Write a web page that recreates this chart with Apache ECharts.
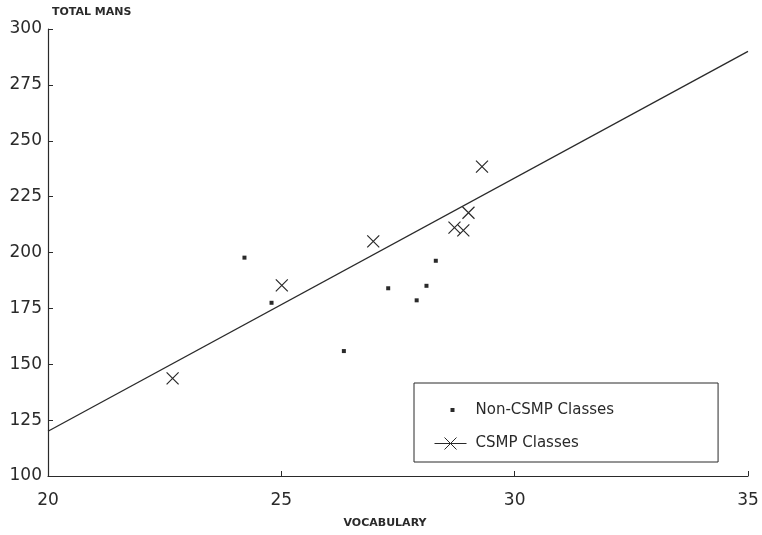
<!DOCTYPE html>
<html>
<head>
<meta charset="utf-8">
<script src="https://cdn.jsdelivr.net/npm/echarts@6/dist/echarts.min.js"></script>
<style>
html, body { margin: 0; background: #fff; }
#chart { width: 762px; height: 535px; }
</style>
</head>
<body>
<div id="chart"></div>
<script>
var ink = '#2a2a2a'

// axis ranges
var xRange = [20, 35]
var xStep = 5
var yRange = [100, 300]
var yStep = 25

// Non-CSMP classes (small squares)
var nonCsmp = [
    [24.21, 197.7],
    [24.79, 177.5],
    [26.34, 155.9],
    [27.29, 184.0],
    [27.90, 178.6],
    [28.11, 185.1],
    [28.31, 196.3]
]

// CSMP classes (crosses)
var csmp = [
    [22.67, 143.7],
    [25.01, 185.3],
    [26.97, 205.0],
    [28.71, 211.1],
    [28.90, 209.9],
    [29.01, 217.8],
    [29.30, 238.4]
]

// fitted line
var fitLine = [[20, 120], [35, 290]]

var chart = echarts.init(document.getElementById('chart'))

var option = {
    backgroundColor: '#fff',
    animation: false,
    grid: { left: 48, right: 14, top: 29, bottom: 59 },
    legend: {
        orient: 'vertical',
        left: 414,
        top: 383,
        data: [
            {
                name: 'Non-CSMP Classes',
                icon: 'path://M0,0M36,0M36,16M0,16M16,6h4v4h-4z',
                itemStyle: { color: ink, borderWidth: 0 }
            },
            {
                name: 'CSMP Classes',
                icon: 'path://M0,8h32M10,2L22,14M22,2L10,14M0,0M36,16',
                itemStyle: { color: 'none', borderColor: ink, borderWidth: 1 }
            }
        ],
        itemWidth: 36,
        itemHeight: 16,
        itemGap: 15,
        padding: [19, 104, 8, 18],
        borderColor: ink,
        borderWidth: 1,
        borderRadius: 0,
        selectedMode: false,
        textStyle: { fontFamily: 'DejaVu Sans', fontSize: 15, color: ink }
    },
    xAxis: {
        type: 'value',
        min: xRange[0],
        max: xRange[1],
        interval: xStep,
        name: 'VOCABULARY',
        nameLocation: 'middle',
        nameGap: 42,
        nameTextStyle: { fontFamily: 'DejaVu Sans', fontSize: 11, fontWeight: 'bold', color: ink, padding: [0, 26, 0, 0] },
        axisLine: { lineStyle: { color: ink, width: 1.2 } },
        axisTick: { inside: true, length: 5, lineStyle: { color: ink } },
        axisLabel: { fontFamily: 'DejaVu Sans', fontSize: 17, color: ink, margin: 16 },
        splitLine: { show: false }
    },
    yAxis: {
        type: 'value',
        min: yRange[0],
        max: yRange[1],
        interval: yStep,
        name: 'TOTAL MANS',
        nameLocation: 'end',
        nameGap: 11,
        nameTextStyle: { fontFamily: 'DejaVu Sans', fontSize: 11, fontWeight: 'bold', color: ink, align: 'left', padding: [0, 0, 0, 4] },
        axisLine: { show: true, lineStyle: { color: ink, width: 1.2 } },
        axisTick: { show: true, inside: true, length: 5, lineStyle: { color: ink } },
        axisLabel: { fontFamily: 'DejaVu Sans', fontSize: 17, color: ink, margin: 6 },
        splitLine: { show: false }
    },
    series: [
        {
            name: 'fit',
            type: 'line',
            data: fitLine,
            showSymbol: false,
            silent: true,
            lineStyle: { color: ink, width: 1.3 }
        },
        {
            name: 'Non-CSMP Classes',
            type: 'scatter',
            data: nonCsmp,
            symbol: 'rect',
            symbolSize: 4,
            itemStyle: { color: ink, opacity: 1 }
        },
        {
            name: 'CSMP Classes',
            type: 'scatter',
            data: csmp,
            symbol: 'path://M0,0L10,10M10,0L0,10',
            symbolSize: 12,
            itemStyle: { color: 'none', borderColor: ink, borderWidth: 1.2, opacity: 1 }
        }
    ]
}

chart.setOption(option)
</script>
</body>
</html>
